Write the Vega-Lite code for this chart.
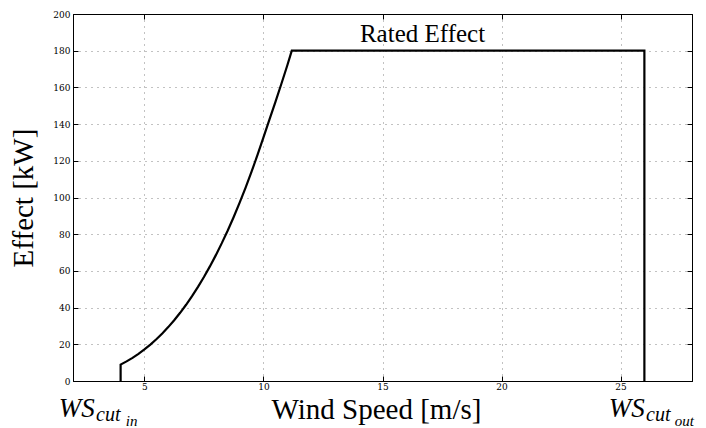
{
  "$schema": "https://vega.github.io/schema/vega-lite/v6.json",
  "width": 619,
  "height": 367,
  "autosize": {"type": "none"},
  "padding": {"left": 73, "top": 14, "right": 14, "bottom": 47},
  "background": "white",
  "config": {
    "view": {"stroke": "black", "strokeWidth": 1},
    "font": "Liberation Serif",
    "axis": {
      "domainColor": "black",
      "domainWidth": 1,
      "tickColor": "black",
      "tickWidth": 1,
      "labelColor": "black",
      "titleColor": "black",
      "labelFont": "DejaVu Serif",
      "labelFontSize": 9,
      "titleFont": "Liberation Serif",
      "titleFontWeight": "normal",
      "titleFontSize": 29,
      "gridColor": "#666666",
      "gridDash": [1, 5],
      "gridWidth": 1,
      "gridOpacity": 0.8,
      "labelFlush": false,
      "labelOverlap": false
    }
  },
  "datasets": {
    "curve": [
      {"i": 1, "v": 4.0, "P": 0},
      {"i": 2, "v": 4.0, "P": 8.96},
      {"i": 3, "v": 4.25, "P": 10.69},
      {"i": 4, "v": 4.5, "P": 12.63},
      {"i": 5, "v": 4.75, "P": 14.8},
      {"i": 6, "v": 5.0, "P": 17.2},
      {"i": 7, "v": 5.25, "P": 19.84},
      {"i": 8, "v": 5.5, "P": 22.74},
      {"i": 9, "v": 5.75, "P": 25.91},
      {"i": 10, "v": 6.0, "P": 29.37},
      {"i": 11, "v": 6.25, "P": 33.12},
      {"i": 12, "v": 6.5, "P": 37.17},
      {"i": 13, "v": 6.75, "P": 41.54},
      {"i": 14, "v": 7.0, "P": 46.24},
      {"i": 15, "v": 7.25, "P": 51.29},
      {"i": 16, "v": 7.5, "P": 56.69},
      {"i": 17, "v": 7.75, "P": 62.45},
      {"i": 18, "v": 8.0, "P": 68.59},
      {"i": 19, "v": 8.25, "P": 75.13},
      {"i": 20, "v": 8.5, "P": 82.06},
      {"i": 21, "v": 8.75, "P": 89.41},
      {"i": 22, "v": 9.0, "P": 97.19},
      {"i": 23, "v": 9.25, "P": 105.4},
      {"i": 24, "v": 9.5, "P": 114.06},
      {"i": 25, "v": 9.75, "P": 123.19},
      {"i": 26, "v": 10.0, "P": 132.79},
      {"i": 27, "v": 10.25, "P": 142.46},
      {"i": 28, "v": 10.5, "P": 151.95},
      {"i": 29, "v": 10.75, "P": 161.85},
      {"i": 30, "v": 11.0, "P": 171.93},
      {"i": 31, "v": 11.19, "P": 180},
      {"i": 32, "v": 26.0, "P": 180},
      {"i": 33, "v": 26.0, "P": 0}
    ],
    "one": [{"k": 1}]
  },
  "data": {"name": "curve"},
  "layer": [
    {
      "mark": {"type": "line", "color": "black", "strokeWidth": 2.2},
      "encoding": {
        "x": {
          "field": "v", "type": "quantitative",
          "scale": {"domain": [2, 28], "nice": false, "zero": false},
          "axis": {"values": [5, 10, 15, 20, 25], "tickSize": -5, "labelPadding": 6, "grid": true,
                   "title": "Wind Speed [m/s]", "titleX": 303, "titleY": 37, "titleBaseline": "alphabetic", "titleAlign": "center"}
        },
        "y": {
          "field": "P", "type": "quantitative",
          "scale": {"domain": [0, 200], "nice": false},
          "axis": {"values": [0, 20, 40, 60, 80, 100, 120, 140, 160, 180, 200], "tickSize": -5, "labelPadding": 8, "grid": true,
                   "title": "Effect [kW]", "titleX": -41, "titleY": 183.5, "titleBaseline": "alphabetic", "titleAlign": "center", "titleAngle": -90}
        },
        "order": {"field": "i", "type": "quantitative"}
      }
    },
    {
      "data": {"name": "one"},
      "mark": {"type": "text", "text": "Rated Effect", "fontSize": 25, "font": "Liberation Serif", "align": "center", "baseline": "alphabetic", "color": "black"},
      "encoding": {
        "x": {"datum": 16.68, "type": "quantitative", "scale": {"domain": [2, 28], "nice": false, "zero": false},
              "axis": {"orient": "top", "values": [5, 10, 15, 20, 25], "labels": false, "title": null, "grid": false, "tickSize": -5}},
        "y": {"datum": 184.7, "type": "quantitative", "scale": {"domain": [0, 200], "nice": false},
              "axis": {"orient": "right", "values": [0, 20, 40, 60, 80, 100, 120, 140, 160, 180, 200], "labels": false, "title": null, "grid": false, "tickSize": -5}}
      }
    },
    {
      "data": {"name": "one"},
      "mark": {"type": "text", "text": "WS", "fontSize": 27, "font": "Liberation Serif", "fontStyle": "italic", "align": "left", "baseline": "alphabetic", "color": "black"},
      "encoding": {
        "x": {"datum": 1.4, "type": "quantitative", "scale": {"domain": [2, 28], "nice": false, "zero": false}, "axis": null},
        "y": {"datum": -19.8, "type": "quantitative", "scale": {"domain": [0, 200], "nice": false}, "axis": null}
      }
    },
    {
      "data": {"name": "one"},
      "mark": {"type": "text", "text": "cut", "fontSize": 20, "font": "Liberation Serif", "fontStyle": "italic", "align": "left", "baseline": "alphabetic", "color": "black"},
      "encoding": {
        "x": {"datum": 2.97, "type": "quantitative", "scale": {"domain": [2, 28], "nice": false, "zero": false}, "axis": null},
        "y": {"datum": -21.8, "type": "quantitative", "scale": {"domain": [0, 200], "nice": false}, "axis": null}
      }
    },
    {
      "data": {"name": "one"},
      "mark": {"type": "text", "text": "in", "fontSize": 15, "font": "Liberation Serif", "fontStyle": "italic", "align": "left", "baseline": "alphabetic", "color": "black"},
      "encoding": {
        "x": {"datum": 4.22, "type": "quantitative", "scale": {"domain": [2, 28], "nice": false, "zero": false}, "axis": null},
        "y": {"datum": -24.4, "type": "quantitative", "scale": {"domain": [0, 200], "nice": false}, "axis": null}
      }
    },
    {
      "data": {"name": "one"},
      "mark": {"type": "text", "text": "WS", "fontSize": 27, "font": "Liberation Serif", "fontStyle": "italic", "align": "left", "baseline": "alphabetic", "color": "black"},
      "encoding": {
        "x": {"datum": 24.5, "type": "quantitative", "scale": {"domain": [2, 28], "nice": false, "zero": false}, "axis": null},
        "y": {"datum": -19.8, "type": "quantitative", "scale": {"domain": [0, 200], "nice": false}, "axis": null}
      }
    },
    {
      "data": {"name": "one"},
      "mark": {"type": "text", "text": "cut", "fontSize": 20, "font": "Liberation Serif", "fontStyle": "italic", "align": "left", "baseline": "alphabetic", "color": "black"},
      "encoding": {
        "x": {"datum": 26.07, "type": "quantitative", "scale": {"domain": [2, 28], "nice": false, "zero": false}, "axis": null},
        "y": {"datum": -21.8, "type": "quantitative", "scale": {"domain": [0, 200], "nice": false}, "axis": null}
      }
    },
    {
      "data": {"name": "one"},
      "mark": {"type": "text", "text": "out", "fontSize": 15, "font": "Liberation Serif", "fontStyle": "italic", "align": "left", "baseline": "alphabetic", "color": "black"},
      "encoding": {
        "x": {"datum": 27.28, "type": "quantitative", "scale": {"domain": [2, 28], "nice": false, "zero": false}, "axis": null},
        "y": {"datum": -24.4, "type": "quantitative", "scale": {"domain": [0, 200], "nice": false}, "axis": null}
      }
    }
  ],
  "resolve": {"axis": {"x": "independent", "y": "independent"}}
}
